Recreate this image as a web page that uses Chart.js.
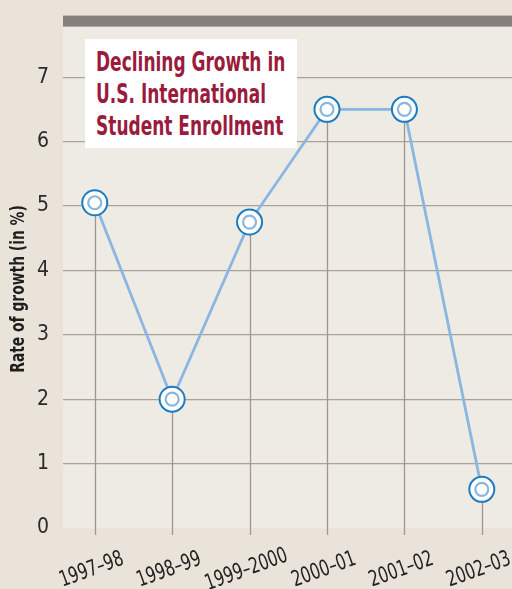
<!DOCTYPE html>
<html>
<head>
<meta charset="utf-8">
<script src="https://cdn.jsdelivr.net/npm/chart.js@4"></script>
<style>
  html, body { margin: 0; padding: 0; background: #e9e3da; }
  #wrap { position: relative; width: 512px; height: 589px; }
  #title {
    position: absolute; left: 85px; top: 39px; width: 212px; height: 109px;
    background: #fff; box-sizing: border-box; padding: 7px 0 0 11px;
    font: bold 27px/32px 'DejaVu Sans Condensed', sans-serif;
    color: #9a1c3c; white-space: nowrap;
  }
  #title span { display: inline-block; transform: scaleX(0.7); transform-origin: left top; }
</style>
</head>
<body>
<div id="wrap">
  <canvas id="chart" width="512" height="589"></canvas>
  <div id="title"><span>Declining Growth in<br>U.S. International<br>Student Enrollment</span></div>
</div>
<script>
// ── Data ──────────────────────────────────────────────────────────────────
const categories = ['1997–98', '1998–99', '1999–2000', '2000–01', '2001–02', '2002–03'];
const growth     = [5.05, 2.0, 4.75, 6.5, 6.5, 0.6];
const yTicks     = [0, 1, 2, 3, 4, 5, 6, 7];
const yTitle     = 'Rate of growth (in %)';

const FONT = "'DejaVu Sans Condensed', sans-serif";
const points = growth.map((v, i) => ({ x: i, y: v }));

// backgrounds, top bar, drop lines, axis title and rotated category labels
const decor = {
  id: 'decor',
  beforeDraw(chart) {
    const { ctx, chartArea: a } = chart;
    ctx.save();
    ctx.fillStyle = '#eeebe5';
    ctx.fillRect(a.left, a.top, a.right - a.left, a.bottom - a.top);
    ctx.fillStyle = '#86817d';
    ctx.fillRect(a.left, a.top - 11, a.right - a.left, 11);
    ctx.restore();
  },
  beforeDatasetsDraw(chart) {
    const { ctx, chartArea: a, scales } = chart;
    ctx.save();
    ctx.strokeStyle = '#9e978f';
    ctx.lineWidth = 1.3;
    points.forEach(p => {
      const x = Math.round(scales.x.getPixelForValue(p.x)) + 0.5;
      ctx.beginPath();
      ctx.moveTo(x, scales.y.getPixelForValue(p.y));
      ctx.lineTo(x, a.bottom + 7);
      ctx.stroke();
    });
    ctx.restore();
  },
  afterDraw(chart) {
    const { ctx, chartArea: a, scales } = chart;
    ctx.save();
    ctx.textAlign = 'center';
    ctx.textBaseline = 'middle';

    // y axis title
    ctx.fillStyle = '#1e1e1e';
    ctx.font = 'bold 20px ' + FONT;
    ctx.save();
    ctx.translate(19, 289);
    ctx.rotate(-Math.PI / 2);
    ctx.scale(0.77, 1);
    ctx.fillText(yTitle, 0, 0);
    ctx.restore();

    // category labels
    ctx.fillStyle = '#222';
    ctx.font = '22px ' + FONT;
    categories.forEach((c, i) => {
      ctx.save();
      ctx.translate(scales.x.getPixelForValue(i) - 3, a.bottom + 42);
      ctx.rotate(-20 * Math.PI / 180);
      ctx.scale(0.78, 1);
      ctx.fillText(c, 0, 0);
      ctx.restore();
    });
    ctx.restore();
  }
};

new Chart(document.getElementById('chart'), {
  type: 'line',
  data: {
    datasets: [
      {
        // inner ring of each marker
        data: points,
        showLine: false,
        pointRadius: 6.5,
        pointHoverRadius: 6.5,
        pointBorderWidth: 2.2,
        pointBorderColor: '#8bb6e1',
        pointBackgroundColor: '#ffffff',
      },
      {
        data: points,
        borderColor: '#8bb6e1',
        borderWidth: 2.8,
        tension: 0,
        pointRadius: 12.5,
        pointHoverRadius: 12.5,
        pointBorderWidth: 2,
        pointBorderColor: '#1b7cc0',
        pointBackgroundColor: '#ffffff',
      },
    ],
  },
  options: {
    responsive: false,
    animation: false,
    events: [],
    clip: false,
    layout: { autoPadding: false, padding: { top: 22, bottom: 61, right: 0, left: 0 } },
    plugins: { legend: { display: false }, tooltip: { enabled: false } },
    scales: {
      x: {
        type: 'linear',
        display: false,
        min: -0.41,
        max: 5.39,
      },
      y: {
        min: 0,
        max: 7.785,
        afterBuildTicks: (s) => { s.ticks = yTicks.map(v => ({ value: v })); },
        afterFit: (s) => { s.width = 63; },
        border: { display: false },
        grid: {
          drawTicks: false,
          lineWidth: 1.3,
          color: (c) => c.tick && c.tick.value === 0 ? 'rgba(0,0,0,0)' : '#a8a29b',
        },
        ticks: {
          padding: 14,
          color: '#2a2a2a',
          font: { family: FONT, size: 21 },
        },
      },
    },
  },
  plugins: [decor],
});
</script>
</body>
</html>
